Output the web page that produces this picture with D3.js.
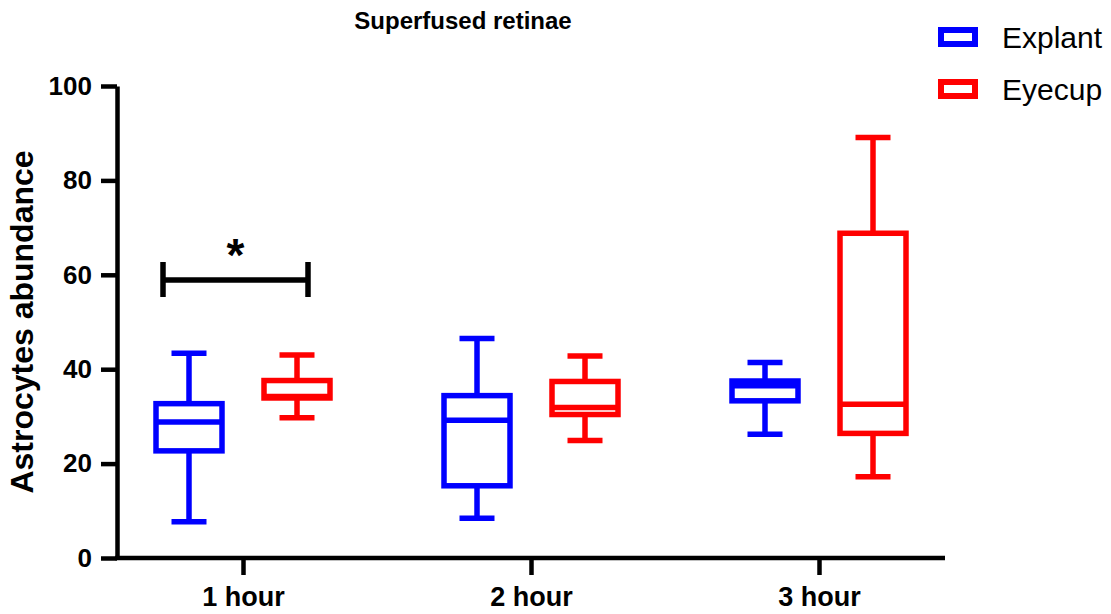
<!DOCTYPE html>
<meta charset="utf-8">
<style>
body {
  margin: 0;
  background: #fff;
  font-family: "Liberation Sans", Arial, Helvetica, sans-serif;
}
svg text {
  fill: #000;
}
.axis path,
.axis line {
  stroke: #000;
  stroke-width: 4.5px;
}
.axis text {
  font-weight: bold;
}
.box rect {
  fill: none;
}
</style>
<body>
<script src="https://d3js.org/d3.v7.min.js"></script>
<script>

var width = 1111,
    height = 614;

// categories and series
var groups = ["1 hour", "2 hour", "3 hour"];
var series = ["Explant", "Eyecup"];
var colors = ["#0000ff", "#ff0000"];

// [min, Q1, median, Q3, max] per group
var explant = [
  [7.7, 22.7, 28.8, 32.7, 43.4],
  [8.4, 15.3, 29.2, 34.4, 46.5],
  [26.2, 33.3, 36.5, 37.5, 41.4]
];
var eyecup = [
  [29.7, 33.9, 34.2, 37.6, 43.0],
  [24.9, 30.4, 31.9, 37.4, 42.8],
  [17.2, 26.4, 32.6, 68.8, 89.1]
];

var yTicks = [0, 20, 40, 60, 80, 100];

// significance bracket between the two 1 hour boxes
var sig = {group: "1 hour", y: 58.9, label: "*"};

// plot edges (window.top is taken, so no "top" here)
var pLeft = 117, pRight = 945, pTop = 86, pBottom = 558;

var svg = d3.select("body").append("svg")
    .attr("width", width)
    .attr("height", height);

var x = d3.scalePoint()
    .domain(groups)
    .range([pLeft, pRight])
    .padding(0.4375);

var xs = d3.scalePoint()
    .domain(series)
    .range([-54, 54]);

var y = d3.scaleLinear()
    .domain([0, 100])
    .range([pBottom, pTop]);

var boxW = 66, capW = 35;

// title
svg.append("text")
    .attr("x", 463)
    .attr("y", 29)
    .attr("text-anchor", "middle")
    .style("font-size", "24px")
    .style("font-weight", "bold")
    .text("Superfused retinae");

// y axis
var yAxis = svg.append("g")
    .attr("class", "axis")
    .attr("transform", "translate(" + pLeft + ",0)")
    .call(d3.axisLeft(y).tickValues(yTicks).tickSize(16).tickSizeOuter(0).tickPadding(9));
yAxis.selectAll("text").style("font-size", "26px");

// x axis
var xAxis = svg.append("g")
    .attr("class", "axis")
    .attr("transform", "translate(0," + pBottom + ")")
    .call(d3.axisBottom(x).tickSize(17).tickSizeOuter(0).tickPadding(12));
xAxis.selectAll("text").style("font-size", "27px");
xAxis.select(".domain").attr("d", "M" + (pLeft - 2) + ",0H" + pRight);

// y axis title
svg.append("text")
    .attr("transform", "translate(33," + (pTop + pBottom) / 2 + ")rotate(-90)")
    .attr("text-anchor", "middle")
    .style("font-size", "32px")
    .style("font-weight", "bold")
    .text("Astrocytes abundance");

// boxes
var data = [];
groups.forEach(function(g, i) {
  data.push({group: g, s: 0, v: explant[i]});
  data.push({group: g, s: 1, v: eyecup[i]});
});

var box = svg.selectAll(".box")
    .data(data)
  .enter().append("g")
    .attr("class", "box")
    .attr("transform", function(d) { return "translate(" + (x(d.group) + xs(series[d.s])) + ",0)"; })
    .style("stroke", function(d) { return colors[d.s]; })
    .style("stroke-width", "5.5px");

// whiskers
box.append("line")
    .attr("y1", function(d) { return y(d.v[4]); })
    .attr("y2", function(d) { return y(d.v[3]); });
box.append("line")
    .attr("y1", function(d) { return y(d.v[1]); })
    .attr("y2", function(d) { return y(d.v[0]); });
box.append("line")
    .attr("x1", -capW / 2).attr("x2", capW / 2)
    .attr("y1", function(d) { return y(d.v[4]); })
    .attr("y2", function(d) { return y(d.v[4]); });
box.append("line")
    .attr("x1", -capW / 2).attr("x2", capW / 2)
    .attr("y1", function(d) { return y(d.v[0]); })
    .attr("y2", function(d) { return y(d.v[0]); });

box.append("rect")
    .attr("x", -boxW / 2)
    .attr("width", boxW)
    .attr("y", function(d) { return y(d.v[3]); })
    .attr("height", function(d) { return y(d.v[1]) - y(d.v[3]); });

box.append("line")
    .attr("x1", -boxW / 2).attr("x2", boxW / 2)
    .attr("y1", function(d) { return y(d.v[2]); })
    .attr("y2", function(d) { return y(d.v[2]); });

// significance bracket
var sx0 = x(sig.group) - 80,
    sx1 = x(sig.group) + 65,
    sy = y(sig.y);
var bracket = svg.append("g")
    .style("stroke", "#000")
    .style("stroke-width", "5.5px");
bracket.append("line").attr("x1", sx0).attr("x2", sx1).attr("y1", sy).attr("y2", sy);
bracket.append("line").attr("x1", sx0).attr("x2", sx0).attr("y1", sy - 18).attr("y2", sy + 17);
bracket.append("line").attr("x1", sx1).attr("x2", sx1).attr("y1", sy - 18).attr("y2", sy + 17);
svg.append("text")
    .attr("x", (sx0 + sx1) / 2)
    .attr("y", sy - 9)
    .attr("text-anchor", "middle")
    .style("font-size", "46px")
    .style("font-weight", "bold")
    .text(sig.label);

// legend
var legend = svg.selectAll(".legend")
    .data(series)
  .enter().append("g")
    .attr("class", "legend")
    .attr("transform", function(d, i) { return "translate(941," + (30 + i * 52) + ")"; });
legend.append("rect")
    .attr("width", 34)
    .attr("height", 14)
    .style("fill", "none")
    .style("stroke", function(d, i) { return colors[i]; })
    .style("stroke-width", "6px");
legend.append("text")
    .attr("x", 61)
    .attr("y", 18)
    .style("font-size", "30px")
    .text(function(d) { return d; });

</script>
</body>
